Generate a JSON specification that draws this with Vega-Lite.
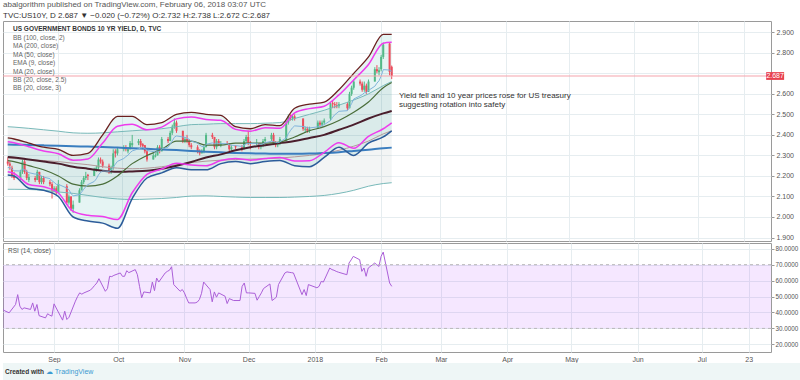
{
"$schema": "https://vega.github.io/schema/vega-lite/v6.json",
"padding": {"left": 2, "top": 0, "right": 0, "bottom": 0},
"background": "white",
"config": {
  "font": "Liberation Sans",
  "view": {"stroke": "#9a9a9a"},
  "axis": {"gridColor": "#e6edf0", "labelColor": "#555555", "labelFontSize": 7, "tickColor": "#9a9a9a", "domain": false, "labelOverlap": false},
  "axisY": {"labelOverlap": false}
},
"title": {"text": "abalgorithm published on TradingView.com, February 06, 2018 03:07 UTC", "subtitle": "TVC:US10Y, D  2.687 ▼ −0.020 (−0.72%)  O:2.732  H:2.738  L:2.672  C:2.687", "anchor": "start", "frame": "group", "fontSize": 8, "fontWeight": "normal", "color": "#555555", "subtitleFontSize": 8, "subtitleColor": "#333333", "subtitleFontWeight": "normal", "subtitlePadding": 3, "offset": 1},
"datasets": {
"bars": [
{"d":"2017-08-08","o":2.27,"h":2.29,"l":2.25,"c":2.26,"e":2.240,"r":42},
{"d":"2017-08-09","o":2.26,"h":2.27,"l":2.23,"c":2.25,"e":2.242,"r":41},
{"d":"2017-08-10","o":2.24,"h":2.25,"l":2.19,"c":2.20,"e":2.234,"r":40.4},
{"d":"2017-08-11","o":2.20,"h":2.22,"l":2.18,"c":2.19,"e":2.225,"r":39.8},
{"d":"2017-08-14","o":2.19,"h":2.23,"l":2.18,"c":2.22,"e":2.224,"r":45},
{"d":"2017-08-15","o":2.22,"h":2.28,"l":2.21,"c":2.27,"e":2.233,"r":51.2},
{"d":"2017-08-16","o":2.27,"h":2.28,"l":2.21,"c":2.22,"e":2.230,"r":44},
{"d":"2017-08-17","o":2.22,"h":2.23,"l":2.18,"c":2.19,"e":2.222,"r":41.9},
{"d":"2017-08-18","o":2.18,"h":2.21,"l":2.17,"c":2.195,"e":2.216,"r":42.9},
{"d":"2017-08-21","o":2.19,"h":2.20,"l":2.17,"c":2.18,"e":2.209,"r":41.9},
{"d":"2017-08-22","o":2.18,"h":2.23,"l":2.18,"c":2.22,"e":2.211,"r":46},
{"d":"2017-08-23","o":2.22,"h":2.22,"l":2.16,"c":2.17,"e":2.203,"r":40.8},
{"d":"2017-08-24","o":2.17,"h":2.20,"l":2.16,"c":2.19,"e":2.200,"r":45},
{"d":"2017-08-25","o":2.19,"h":2.20,"l":2.16,"c":2.17,"e":2.194,"r":38},
{"d":"2017-08-28","o":2.17,"h":2.18,"l":2.15,"c":2.16,"e":2.187,"r":36.6},
{"d":"2017-08-29","o":2.16,"h":2.17,"l":2.09,"c":2.13,"e":2.176,"r":39.2},
{"d":"2017-08-30","o":2.13,"h":2.15,"l":2.12,"c":2.14,"e":2.169,"r":38.3},
{"d":"2017-08-31","o":2.14,"h":2.15,"l":2.11,"c":2.12,"e":2.159,"r":37.7},
{"d":"2017-09-01","o":2.12,"h":2.18,"l":2.12,"c":2.16,"e":2.159,"r":45.4},
{"d":"2017-09-05","o":2.15,"h":2.16,"l":2.06,"c":2.07,"e":2.141,"r":35.2},
{"d":"2017-09-06","o":2.07,"h":2.11,"l":2.06,"c":2.10,"e":2.133,"r":40.8},
{"d":"2017-09-07","o":2.10,"h":2.10,"l":2.03,"c":2.04,"e":2.114,"r":35.6},
{"d":"2017-09-08","o":2.04,"h":2.08,"l":2.02,"c":2.06,"e":2.103,"r":37},
{"d":"2017-09-11","o":2.07,"h":2.14,"l":2.07,"c":2.13,"e":2.108,"r":47.1},
{"d":"2017-09-12","o":2.13,"h":2.18,"l":2.13,"c":2.17,"e":2.121,"r":50},
{"d":"2017-09-13","o":2.17,"h":2.20,"l":2.16,"c":2.19,"e":2.135,"r":52.3},
{"d":"2017-09-14","o":2.19,"h":2.22,"l":2.18,"c":2.20,"e":2.148,"r":51.5},
{"d":"2017-09-15","o":2.205,"h":2.21,"l":2.18,"c":2.20,"e":2.158,"r":52.3},
{"d":"2017-09-18","o":2.20,"h":2.24,"l":2.20,"c":2.23,"e":2.173,"r":54},
{"d":"2017-09-19","o":2.23,"h":2.25,"l":2.22,"c":2.24,"e":2.186,"r":55.4},
{"d":"2017-09-20","o":2.24,"h":2.29,"l":2.23,"c":2.28,"e":2.205,"r":57},
{"d":"2017-09-21","o":2.28,"h":2.29,"l":2.26,"c":2.27,"e":2.218,"r":58.5},
{"d":"2017-09-22","o":2.27,"h":2.28,"l":2.24,"c":2.25,"e":2.224,"r":61.2},
{"d":"2017-09-25","o":2.25,"h":2.26,"l":2.21,"c":2.22,"e":2.223,"r":53.3},
{"d":"2017-09-26","o":2.22,"h":2.25,"l":2.21,"c":2.24,"e":2.227,"r":55},
{"d":"2017-09-27","o":2.24,"h":2.33,"l":2.23,"c":2.31,"e":2.243,"r":62.7},
{"d":"2017-09-28","o":2.32,"h":2.33,"l":2.29,"c":2.31,"e":2.257,"r":62.5},
{"d":"2017-09-29","o":2.31,"h":2.34,"l":2.30,"c":2.33,"e":2.271,"r":63.3},
{"d":"2017-10-02","o":2.33,"h":2.35,"l":2.32,"c":2.34,"e":2.285,"r":64.8},
{"d":"2017-10-03","o":2.34,"h":2.35,"l":2.32,"c":2.33,"e":2.294,"r":62.7},
{"d":"2017-10-04","o":2.32,"h":2.34,"l":2.31,"c":2.33,"e":2.301,"r":62.7},
{"d":"2017-10-05","o":2.33,"h":2.37,"l":2.33,"c":2.36,"e":2.313,"r":66.2},
{"d":"2017-10-06","o":2.35,"h":2.40,"l":2.34,"c":2.36,"e":2.322,"r":65},
{"d":"2017-10-09","o":2.36,"h":2.38,"l":2.35,"c":2.37,"e":2.332,"r":66.9},
{"d":"2017-10-10","o":2.37,"h":2.38,"l":2.34,"c":2.35,"e":2.336,"r":63.7},
{"d":"2017-10-11","o":2.355,"h":2.36,"l":2.33,"c":2.345,"e":2.338,"r":56.4},
{"d":"2017-10-12","o":2.35,"h":2.35,"l":2.31,"c":2.32,"e":2.335,"r":49.2},
{"d":"2017-10-13","o":2.32,"h":2.33,"l":2.27,"c":2.28,"e":2.324,"r":52.9},
{"d":"2017-10-16","o":2.28,"h":2.31,"l":2.28,"c":2.30,"e":2.319,"r":52.3},
{"d":"2017-10-17","o":2.295,"h":2.31,"l":2.29,"c":2.30,"e":2.315,"r":59.1},
{"d":"2017-10-18","o":2.30,"h":2.35,"l":2.30,"c":2.34,"e":2.320,"r":53.7},
{"d":"2017-10-19","o":2.34,"h":2.35,"l":2.31,"c":2.32,"e":2.320,"r":61.6},
{"d":"2017-10-20","o":2.32,"h":2.39,"l":2.32,"c":2.38,"e":2.332,"r":59.1},
{"d":"2017-10-23","o":2.38,"h":2.39,"l":2.36,"c":2.37,"e":2.340,"r":64.8},
{"d":"2017-10-24","o":2.37,"h":2.42,"l":2.37,"c":2.41,"e":2.354,"r":65.8},
{"d":"2017-10-25","o":2.41,"h":2.45,"l":2.40,"c":2.44,"e":2.371,"r":66.5},
{"d":"2017-10-26","o":2.44,"h":2.48,"l":2.43,"c":2.46,"e":2.389,"r":68.7},
{"d":"2017-10-27","o":2.46,"h":2.47,"l":2.41,"c":2.42,"e":2.395,"r":57.5},
{"d":"2017-10-30","o":2.42,"h":2.42,"l":2.36,"c":2.37,"e":2.390,"r":53.3},
{"d":"2017-10-31","o":2.37,"h":2.39,"l":2.36,"c":2.38,"e":2.388,"r":54.4},
{"d":"2017-11-01","o":2.38,"h":2.40,"l":2.36,"c":2.37,"e":2.384,"r":52.3},
{"d":"2017-11-02","o":2.37,"h":2.38,"l":2.34,"c":2.35,"e":2.378,"r":49},
{"d":"2017-11-03","o":2.35,"h":2.36,"l":2.33,"c":2.34,"e":2.370,"r":46},
{"d":"2017-11-06","o":2.34,"h":2.35,"l":2.31,"c":2.32,"e":2.360,"r":46},
{"d":"2017-11-07","o":2.32,"h":2.33,"l":2.30,"c":2.31,"e":2.350,"r":46.5},
{"d":"2017-11-08","o":2.31,"h":2.33,"l":2.31,"c":2.32,"e":2.344,"r":48.1},
{"d":"2017-11-09","o":2.32,"h":2.35,"l":2.31,"c":2.34,"e":2.343,"r":52},
{"d":"2017-11-10","o":2.34,"h":2.41,"l":2.34,"c":2.40,"e":2.354,"r":59.1},
{"d":"2017-11-13","o":2.40,"h":2.41,"l":2.38,"c":2.39,"e":2.361,"r":54.4},
{"d":"2017-11-14","o":2.39,"h":2.39,"l":2.33,"c":2.34,"e":2.357,"r":46.7},
{"d":"2017-11-15","o":2.34,"h":2.38,"l":2.33,"c":2.37,"e":2.360,"r":52.9},
{"d":"2017-11-16","o":2.37,"h":2.38,"l":2.345,"c":2.35,"e":2.358,"r":49.6},
{"d":"2017-11-17","o":2.35,"h":2.37,"l":2.34,"c":2.36,"e":2.358,"r":52.3},
{"d":"2017-11-20","o":2.36,"h":2.37,"l":2.35,"c":2.355,"e":2.357,"r":50.2},
{"d":"2017-11-21","o":2.355,"h":2.36,"l":2.32,"c":2.33,"e":2.352,"r":45.6},
{"d":"2017-11-22","o":2.33,"h":2.35,"l":2.32,"c":2.34,"e":2.350,"r":48.7},
{"d":"2017-11-24","o":2.345,"h":2.35,"l":2.33,"c":2.34,"e":2.348,"r":47.5},
{"d":"2017-11-27","o":2.34,"h":2.35,"l":2.32,"c":2.33,"e":2.344,"r":47.5},
{"d":"2017-11-28","o":2.33,"h":2.38,"l":2.33,"c":2.37,"e":2.349,"r":56.4},
{"d":"2017-11-29","o":2.37,"h":2.40,"l":2.36,"c":2.39,"e":2.357,"r":58.5},
{"d":"2017-11-30","o":2.39,"h":2.42,"l":2.35,"c":2.36,"e":2.358,"r":52.3},
{"d":"2017-12-01","o":2.365,"h":2.37,"l":2.33,"c":2.36,"e":2.358,"r":52.3},
{"d":"2017-12-04","o":2.355,"h":2.38,"l":2.35,"c":2.36,"e":2.359,"r":52},
{"d":"2017-12-05","o":2.36,"h":2.36,"l":2.33,"c":2.34,"e":2.355,"r":47.7},
{"d":"2017-12-06","o":2.34,"h":2.36,"l":2.33,"c":2.35,"e":2.354,"r":50},
{"d":"2017-12-07","o":2.35,"h":2.38,"l":2.34,"c":2.37,"e":2.357,"r":52.3},
{"d":"2017-12-08","o":2.37,"h":2.39,"l":2.36,"c":2.38,"e":2.362,"r":55},
{"d":"2017-12-11","o":2.38,"h":2.41,"l":2.37,"c":2.40,"e":2.369,"r":57.9},
{"d":"2017-12-12","o":2.40,"h":2.41,"l":2.35,"c":2.36,"e":2.367,"r":47.5},
{"d":"2017-12-13","o":2.36,"h":2.37,"l":2.34,"c":2.35,"e":2.364,"r":48.5},
{"d":"2017-12-14","o":2.35,"h":2.36,"l":2.34,"c":2.355,"e":2.362,"r":49.6},
{"d":"2017-12-15","o":2.355,"h":2.39,"l":2.35,"c":2.38,"e":2.366,"r":57.5},
{"d":"2017-12-18","o":2.37,"h":2.47,"l":2.37,"c":2.46,"e":2.385,"r":64.8},
{"d":"2017-12-19","o":2.46,"h":2.50,"l":2.45,"c":2.49,"e":2.406,"r":65.5},
{"d":"2017-12-20","o":2.49,"h":2.50,"l":2.47,"c":2.48,"e":2.421,"r":65.2},
{"d":"2017-12-21","o":2.48,"h":2.50,"l":2.47,"c":2.49,"e":2.435,"r":65},
{"d":"2017-12-22","o":2.49,"h":2.50,"l":2.47,"c":2.48,"e":2.444,"r":64.8},
{"d":"2017-12-26","o":2.48,"h":2.48,"l":2.42,"c":2.43,"e":2.441,"r":51.2},
{"d":"2017-12-27","o":2.425,"h":2.44,"l":2.41,"c":2.43,"e":2.439,"r":54.4},
{"d":"2017-12-28","o":2.43,"h":2.44,"l":2.41,"c":2.42,"e":2.435,"r":50.6},
{"d":"2017-12-29","o":2.42,"h":2.44,"l":2.41,"c":2.43,"e":2.434,"r":57.5},
{"d":"2018-01-02","o":2.43,"h":2.47,"l":2.43,"c":2.46,"e":2.439,"r":55.5},
{"d":"2018-01-03","o":2.46,"h":2.47,"l":2.44,"c":2.45,"e":2.441,"r":56.4},
{"d":"2018-01-04","o":2.45,"h":2.47,"l":2.44,"c":2.46,"e":2.445,"r":59.5},
{"d":"2018-01-05","o":2.46,"h":2.48,"l":2.45,"c":2.47,"e":2.450,"r":59.1},
{"d":"2018-01-08","o":2.48,"h":2.56,"l":2.47,"c":2.55,"e":2.470,"r":67.9},
{"d":"2018-01-09","o":2.555,"h":2.57,"l":2.53,"c":2.55,"e":2.486,"r":66.9},
{"d":"2018-01-10","o":2.55,"h":2.56,"l":2.53,"c":2.545,"e":2.498,"r":66.5},
{"d":"2018-01-11","o":2.545,"h":2.56,"l":2.53,"c":2.54,"e":2.506,"r":65.8},
{"d":"2018-01-12","o":2.54,"h":2.56,"l":2.53,"c":2.55,"e":2.515,"r":65.3},
{"d":"2018-01-16","o":2.55,"h":2.56,"l":2.52,"c":2.53,"e":2.518,"r":63.7},
{"d":"2018-01-17","o":2.53,"h":2.61,"l":2.53,"c":2.60,"e":2.534,"r":71},
{"d":"2018-01-18","o":2.60,"h":2.64,"l":2.59,"c":2.63,"e":2.553,"r":73},
{"d":"2018-01-19","o":2.63,"h":2.67,"l":2.62,"c":2.66,"e":2.575,"r":75.2},
{"d":"2018-01-22","o":2.66,"h":2.67,"l":2.64,"c":2.65,"e":2.590,"r":73.1},
{"d":"2018-01-23","o":2.65,"h":2.66,"l":2.61,"c":2.62,"e":2.596,"r":65.8},
{"d":"2018-01-24","o":2.62,"h":2.66,"l":2.61,"c":2.64,"e":2.605,"r":67.9},
{"d":"2018-01-25","o":2.64,"h":2.65,"l":2.60,"c":2.61,"e":2.606,"r":62.7},
{"d":"2018-01-26","o":2.61,"h":2.67,"l":2.61,"c":2.66,"e":2.617,"r":67.9},
{"d":"2018-01-29","o":2.66,"h":2.73,"l":2.66,"c":2.72,"e":2.637,"r":71},
{"d":"2018-01-30","o":2.72,"h":2.74,"l":2.70,"c":2.71,"e":2.652,"r":70},
{"d":"2018-01-31","o":2.705,"h":2.73,"l":2.69,"c":2.715,"e":2.664,"r":68.9},
{"d":"2018-02-01","o":2.72,"h":2.79,"l":2.71,"c":2.78,"e":2.687,"r":75.2},
{"d":"2018-02-02","o":2.78,"h":2.85,"l":2.77,"c":2.84,"e":2.718,"r":77.9},
{"d":"2018-02-05","o":2.845,"h":2.852,"l":2.69,"c":2.707,"e":2.716,"r":58.5},
{"d":"2018-02-06","o":2.732,"h":2.738,"l":2.672,"c":2.687,"e":2.710,"r":56.4}
],
"ind": [
{"d":"2017-08-08","ma200":2.353,"ma100":2.287,"bu100":2.44,"bl100":2.135,"ma50":2.292,"ma20":2.275,"u3":2.385,"l3":2.205,"u25":2.367,"l25":2.22},
{"d":"2017-08-11","ma200":2.352,"ma100":2.285,"bu100":2.438,"bl100":2.135,"ma50":2.29,"ma20":2.27,"u3":2.38,"l3":2.20,"u25":2.362,"l25":2.212},
{"d":"2017-08-18","ma200":2.351,"ma100":2.28,"bu100":2.432,"bl100":2.134,"ma50":2.28,"ma20":2.25,"u3":2.36,"l3":2.14,"u25":2.342,"l25":2.158},
{"d":"2017-08-25","ma200":2.349,"ma100":2.275,"bu100":2.425,"bl100":2.13,"ma50":2.27,"ma20":2.23,"u3":2.34,"l3":2.13,"u25":2.322,"l25":2.147},
{"d":"2017-09-01","ma200":2.347,"ma100":2.27,"bu100":2.418,"bl100":2.122,"ma50":2.26,"ma20":2.20,"u3":2.33,"l3":2.10,"u25":2.308,"l25":2.117},
{"d":"2017-09-08","ma200":2.345,"ma100":2.262,"bu100":2.41,"bl100":2.115,"ma50":2.245,"ma20":2.16,"u3":2.30,"l3":2.00,"u25":2.277,"l25":2.027},
{"d":"2017-09-15","ma200":2.343,"ma100":2.255,"bu100":2.408,"bl100":2.105,"ma50":2.235,"ma20":2.15,"u3":2.31,"l3":1.98,"u25":2.283,"l25":2.008},
{"d":"2017-09-22","ma200":2.341,"ma100":2.245,"bu100":2.41,"bl100":2.095,"ma50":2.225,"ma20":2.16,"u3":2.40,"l3":1.97,"u25":2.36,"l25":2.002},
{"d":"2017-09-29","ma200":2.338,"ma100":2.238,"bu100":2.415,"bl100":2.088,"ma50":2.22,"ma20":2.20,"u3":2.49,"l3":1.945,"u25":2.442,"l25":1.988},
{"d":"2017-10-06","ma200":2.335,"ma100":2.235,"bu100":2.42,"bl100":2.085,"ma50":2.222,"ma20":2.26,"u3":2.49,"l3":2.09,"u25":2.452,"l25":2.118},
{"d":"2017-10-13","ma200":2.332,"ma100":2.238,"bu100":2.425,"bl100":2.087,"ma50":2.225,"ma20":2.30,"u3":2.45,"l3":2.19,"u25":2.425,"l25":2.208},
{"d":"2017-10-20","ma200":2.329,"ma100":2.245,"bu100":2.43,"bl100":2.09,"ma50":2.235,"ma20":2.33,"u3":2.46,"l3":2.215,"u25":2.438,"l25":2.234},
{"d":"2017-10-27","ma200":2.326,"ma100":2.255,"bu100":2.44,"bl100":2.095,"ma50":2.25,"ma20":2.37,"u3":2.50,"l3":2.24,"u25":2.478,"l25":2.262},
{"d":"2017-11-03","ma200":2.322,"ma100":2.265,"bu100":2.45,"bl100":2.102,"ma50":2.268,"ma20":2.37,"u3":2.51,"l3":2.23,"u25":2.487,"l25":2.253},
{"d":"2017-11-10","ma200":2.318,"ma100":2.272,"bu100":2.452,"bl100":2.103,"ma50":2.29,"ma20":2.35,"u3":2.50,"l3":2.23,"u25":2.475,"l25":2.25},
{"d":"2017-11-17","ma200":2.315,"ma100":2.277,"bu100":2.455,"bl100":2.10,"ma50":2.305,"ma20":2.35,"u3":2.495,"l3":2.26,"u25":2.471,"l25":2.275},
{"d":"2017-11-24","ma200":2.312,"ma100":2.28,"bu100":2.455,"bl100":2.097,"ma50":2.325,"ma20":2.36,"u3":2.44,"l3":2.27,"u25":2.427,"l25":2.285},
{"d":"2017-12-01","ma200":2.31,"ma100":2.282,"bu100":2.455,"bl100":2.095,"ma50":2.34,"ma20":2.36,"u3":2.43,"l3":2.26,"u25":2.418,"l25":2.277},
{"d":"2017-12-08","ma200":2.309,"ma100":2.284,"bu100":2.457,"bl100":2.095,"ma50":2.35,"ma20":2.36,"u3":2.45,"l3":2.27,"u25":2.435,"l25":2.285},
{"d":"2017-12-15","ma200":2.308,"ma100":2.287,"bu100":2.46,"bl100":2.095,"ma50":2.36,"ma20":2.365,"u3":2.445,"l3":2.275,"u25":2.432,"l25":2.29},
{"d":"2017-12-22","ma200":2.308,"ma100":2.293,"bu100":2.48,"bl100":2.097,"ma50":2.37,"ma20":2.39,"u3":2.53,"l3":2.25,"u25":2.507,"l25":2.273},
{"d":"2017-12-29","ma200":2.309,"ma100":2.30,"bu100":2.50,"bl100":2.10,"ma50":2.385,"ma20":2.42,"u3":2.55,"l3":2.245,"u25":2.528,"l25":2.274},
{"d":"2018-01-05","ma200":2.312,"ma100":2.31,"bu100":2.52,"bl100":2.105,"ma50":2.40,"ma20":2.44,"u3":2.56,"l3":2.29,"u25":2.54,"l25":2.315},
{"d":"2018-01-12","ma200":2.316,"ma100":2.325,"bu100":2.545,"bl100":2.115,"ma50":2.425,"ma20":2.47,"u3":2.62,"l3":2.34,"u25":2.595,"l25":2.362},
{"d":"2018-01-19","ma200":2.322,"ma100":2.345,"bu100":2.57,"bl100":2.13,"ma50":2.45,"ma20":2.51,"u3":2.70,"l3":2.30,"u25":2.668,"l25":2.335},
{"d":"2018-01-26","ma200":2.328,"ma100":2.37,"bu100":2.60,"bl100":2.15,"ma50":2.48,"ma20":2.56,"u3":2.78,"l3":2.36,"u25":2.743,"l25":2.393},
{"d":"2018-02-02","ma200":2.335,"ma100":2.405,"bu100":2.64,"bl100":2.163,"ma50":2.505,"ma20":2.63,"u3":2.89,"l3":2.39,"u25":2.847,"l25":2.43},
{"d":"2018-02-06","ma200":2.338,"ma100":2.42,"bu100":2.66,"bl100":2.167,"ma50":2.517,"ma20":2.655,"u3":2.89,"l3":2.42,"u25":2.851,"l25":2.459}
]
},
"spacing": 0,
"resolve": {"scale": {"x": "independent", "y": "independent"}},
"vconcat": [
{
  "width": 768, "height": 220,
  "resolve": {"axis": {"x": "independent", "y": "independent"}},
  "layer": [
    {"data": {"name": "ind"}, "mark": {"type": "area", "color": "#8a9a9a", "opacity": 0.1, "interpolate": "monotone", "clip": true},
     "encoding": {
       "x": {"field": "d", "type": "temporal", "title": null, "scale": {"type": "utc", "nice": false, "domain": [{"year": 2017, "month": 8, "date": 8, "hours": 3, "utc": true}, {"year": 2018, "month": 8, "date": 2, "hours": 10, "utc": true}]},
             "axis": {"values": [{"year":2017,"month":9,"date":1,"utc":true},{"year":2017,"month":10,"date":1,"utc":true},{"year":2017,"month":11,"date":1,"utc":true},{"year":2017,"month":12,"date":1,"utc":true},{"year":2018,"month":1,"date":1,"utc":true},{"year":2018,"month":2,"date":1,"utc":true},{"year":2018,"month":3,"date":1,"utc":true},{"year":2018,"month":4,"date":1,"utc":true},{"year":2018,"month":5,"date":1,"utc":true},{"year":2018,"month":6,"date":1,"utc":true},{"year":2018,"month":7,"date":1,"utc":true},{"year":2018,"month":7,"date":23,"utc":true}], "labels": false, "ticks": false, "domain": false, "grid": true, "title": null}},
       "y": {"field": "bu100", "type": "quantitative", "title": null, "scale": {"domain": [1.883, 2.955], "zero": false, "nice": false},
             "axis": {"orient": "right", "values": [1.9, 2.0, 2.1, 2.2, 2.3, 2.4, 2.5, 2.6, 2.7, 2.8, 2.9], "labelExpr": "abs(datum.value - 2.7) < 0.001 ? '' : format(datum.value, '.3f')", "tickSize": 3, "labelPadding": 2, "labelOverlap": false, "grid": true, "title": null}},
       "y2": {"field": "bl100"}}},
    {"data": {"name": "ind"}, "mark": {"type": "area", "color": "#009688", "opacity": 0.1, "interpolate": "monotone", "clip": true},
     "encoding": {"x": {"field": "d", "type": "temporal", "axis": null, "scale": {"type": "utc"}}, "y": {"field": "u3", "type": "quantitative", "axis": null}, "y2": {"field": "l3"}}},
    {"data": {"name": "bars"}, "mark": {"type": "rule", "strokeWidth": 1, "clip": true},
     "encoding": {"x": {"field": "d", "type": "temporal", "axis": null, "scale": {"type": "utc"}}, "y": {"field": "l", "type": "quantitative", "axis": null}, "y2": {"field": "h"},
       "color": {"condition": {"test": "datum.c >= datum.o", "value": "#53b987"}, "value": "#eb4d5c"}}},
    {"data": {"name": "bars"}, "mark": {"type": "bar", "size": 2, "clip": true},
     "encoding": {"x": {"field": "d", "type": "temporal", "axis": null, "scale": {"type": "utc"}}, "y": {"field": "o", "type": "quantitative", "axis": null}, "y2": {"field": "c"},
       "color": {"condition": {"test": "datum.c >= datum.o", "value": "#53b987"}, "value": "#eb4d5c"}}},
    {"data": {"name": "ind"}, "mark": {"type": "line", "color": "#78b9b9", "strokeWidth": 1, "interpolate": "monotone", "clip": true},
     "encoding": {"x": {"field": "d", "type": "temporal", "axis": null, "scale": {"type": "utc"}}, "y": {"field": "bu100", "type": "quantitative", "axis": null}}},
    {"data": {"name": "ind"}, "mark": {"type": "line", "color": "#78b9b9", "strokeWidth": 1, "interpolate": "monotone", "clip": true},
     "encoding": {"x": {"field": "d", "type": "temporal", "axis": null, "scale": {"type": "utc"}}, "y": {"field": "bl100", "type": "quantitative", "axis": null}}},
    {"data": {"name": "ind"}, "mark": {"type": "line", "color": "#b3999a", "strokeWidth": 1, "interpolate": "monotone", "clip": true},
     "encoding": {"x": {"field": "d", "type": "temporal", "axis": null, "scale": {"type": "utc"}}, "y": {"field": "ma100", "type": "quantitative", "axis": null}}},
    {"data": {"name": "ind"}, "mark": {"type": "line", "color": "#3a7dbf", "strokeWidth": 2, "interpolate": "monotone", "clip": true},
     "encoding": {"x": {"field": "d", "type": "temporal", "axis": null, "scale": {"type": "utc"}}, "y": {"field": "ma200", "type": "quantitative", "axis": null}}},
    {"data": {"name": "ind"}, "mark": {"type": "line", "color": "#4a1e2c", "strokeWidth": 2, "interpolate": "monotone", "clip": true},
     "encoding": {"x": {"field": "d", "type": "temporal", "axis": null, "scale": {"type": "utc"}}, "y": {"field": "ma50", "type": "quantitative", "axis": null}}},
    {"data": {"name": "ind"}, "mark": {"type": "line", "color": "#4a6e3a", "strokeWidth": 1.2, "interpolate": "monotone", "clip": true},
     "encoding": {"x": {"field": "d", "type": "temporal", "axis": null, "scale": {"type": "utc"}}, "y": {"field": "ma20", "type": "quantitative", "axis": null}}},
    {"data": {"name": "bars"}, "mark": {"type": "line", "color": "#7fb3dc", "strokeWidth": 1, "clip": true},
     "encoding": {"x": {"field": "d", "type": "temporal", "axis": null, "scale": {"type": "utc"}}, "y": {"field": "e", "type": "quantitative", "axis": null}}},
    {"data": {"name": "ind"}, "mark": {"type": "line", "color": "#6b1f1f", "strokeWidth": 1.3, "interpolate": "monotone", "clip": true},
     "encoding": {"x": {"field": "d", "type": "temporal", "axis": null, "scale": {"type": "utc"}}, "y": {"field": "u3", "type": "quantitative", "axis": null}}},
    {"data": {"name": "ind"}, "mark": {"type": "line", "color": "#2c5c9a", "strokeWidth": 1.5, "interpolate": "monotone", "clip": true},
     "encoding": {"x": {"field": "d", "type": "temporal", "axis": null, "scale": {"type": "utc"}}, "y": {"field": "l3", "type": "quantitative", "axis": null}}},
    {"data": {"name": "ind"}, "mark": {"type": "line", "color": "#ee3ced", "strokeWidth": 1.5, "interpolate": "monotone", "clip": true},
     "encoding": {"x": {"field": "d", "type": "temporal", "axis": null, "scale": {"type": "utc"}}, "y": {"field": "u25", "type": "quantitative", "axis": null}}},
    {"data": {"name": "ind"}, "mark": {"type": "line", "color": "#ee3ced", "strokeWidth": 1.5, "interpolate": "monotone", "clip": true},
     "encoding": {"x": {"field": "d", "type": "temporal", "axis": null, "scale": {"type": "utc"}}, "y": {"field": "l25", "type": "quantitative", "axis": null}}},
    {"data": {"values": [{}]}, "mark": {"type": "rule", "color": "#f5a3ab", "strokeWidth": 1},
     "encoding": {"y": {"datum": 2.687, "type": "quantitative", "axis": null}}},
    {"data": {"values": [{}]}, "mark": {"type": "text", "text": "US GOVERNMENT BONDS 10 YR YIELD, D, TVC", "align": "left", "baseline": "top", "fontSize": 6.5, "fontWeight": "bold", "color": "#333333", "dx": 5},
     "encoding": {"x": {"datum": {"year": 2017, "month": 8, "date": 8, "hours": 3, "utc": true}, "type": "temporal", "axis": null, "scale": {"type": "utc"}}, "y": {"datum": 2.93, "type": "quantitative", "axis": null}}},
    {"data": {"values": [{}]}, "mark": {"type": "text", "text": ["BB (100, close, 2)", "MA (200, close)", "MA (50, close)", "EMA (9, close)", "MA (20, close)", "BB (20, close, 2.5)", "BB (20, close, 3)"], "lineHeight": 8.45, "align": "left", "baseline": "top", "fontSize": 6.5, "color": "#666666", "dx": 5},
     "encoding": {"x": {"datum": {"year": 2017, "month": 8, "date": 8, "hours": 3, "utc": true}, "type": "temporal", "axis": null, "scale": {"type": "utc"}}, "y": {"datum": 2.888, "type": "quantitative", "axis": null}}},
    {"data": {"values": [{}]}, "mark": {"type": "text", "text": ["Yield fell and 10 year prices rose for US treasury", "suggesting rotation into safety"], "lineHeight": 8.5, "align": "left", "baseline": "top", "fontSize": 8, "color": "#333333"},
     "encoding": {"x": {"datum": {"year": 2018, "month": 2, "date": 9, "hours": 10, "utc": true}, "type": "temporal", "axis": null, "scale": {"type": "utc"}}, "y": {"datum": 2.607, "type": "quantitative", "axis": null}}},
    {"data": {"values": [{}]}, "mark": {"type": "rect", "color": "#e8414f"},
     "encoding": {"x": {"datum": {"year": 2018, "month": 8, "date": 2, "hours": 12, "utc": true}, "type": "temporal", "axis": null, "scale": {"type": "utc"}},
                  "x2": {"datum": {"year": 2018, "month": 8, "date": 11, "hours": 0, "utc": true}},
                  "y": {"datum": 2.706, "type": "quantitative", "axis": null}, "y2": {"datum": 2.668}}},
    {"data": {"values": [{}]}, "mark": {"type": "text", "text": "2.687", "align": "center", "baseline": "middle", "fontSize": 7, "color": "white"},
     "encoding": {"x": {"datum": {"year": 2018, "month": 8, "date": 6, "hours": 18, "utc": true}, "type": "temporal", "axis": null, "scale": {"type": "utc"}}, "y": {"datum": 2.687, "type": "quantitative", "axis": null}}}
  ]
},
{
  "width": 768, "height": 109,
  "resolve": {"axis": {"x": "independent", "y": "independent"}},
  "layer": [
    {"data": {"values": [{}]}, "mark": {"type": "rect", "color": "#9915ff", "opacity": 0.1},
     "encoding": {"y": {"datum": 30, "type": "quantitative", "axis": null}, "y2": {"datum": 70}}},
    {"data": {"name": "bars"}, "mark": {"type": "line", "color": "#ab5fd8", "strokeWidth": 1, "clip": true},
     "encoding": {
       "x": {"field": "d", "type": "temporal", "title": null, "scale": {"type": "utc", "nice": false, "domain": [{"year": 2017, "month": 8, "date": 8, "hours": 3, "utc": true}, {"year": 2018, "month": 8, "date": 2, "hours": 10, "utc": true}]},
             "axis": {"values": [{"year":2017,"month":9,"date":1,"utc":true},{"year":2017,"month":10,"date":1,"utc":true},{"year":2017,"month":11,"date":1,"utc":true},{"year":2017,"month":12,"date":1,"utc":true},{"year":2018,"month":1,"date":1,"utc":true},{"year":2018,"month":2,"date":1,"utc":true},{"year":2018,"month":3,"date":1,"utc":true},{"year":2018,"month":4,"date":1,"utc":true},{"year":2018,"month":5,"date":1,"utc":true},{"year":2018,"month":6,"date":1,"utc":true},{"year":2018,"month":7,"date":1,"utc":true},{"year":2018,"month":7,"date":23,"utc":true}],
               "labelExpr": "utcdate(datum.value) != 1 ? utcFormat(datum.value, '%d') : (utcmonth(datum.value) == 0 ? utcFormat(datum.value, '%Y') : utcFormat(datum.value, '%b'))",
               "ticks": false, "domain": false, "grid": true, "title": null, "labelPadding": 3, "labelOverlap": false, "labelFlush": false}},
       "y": {"field": "r", "type": "quantitative", "title": null, "scale": {"domain": [15.2, 83.6], "zero": false, "nice": false},
             "axis": {"orient": "right", "values": [20, 30, 40, 50, 60, 70, 80], "format": ".4f", "tickSize": 3, "labelPadding": 1, "labelFontSize": 6.3, "labelOverlap": false, "grid": true, "title": null}}}},
    {"data": {"values": [{"lvl": 30}, {"lvl": 70}]}, "mark": {"type": "rule", "color": "#b8b8b8", "strokeDash": [3, 3], "strokeWidth": 1},
     "encoding": {"y": {"field": "lvl", "type": "quantitative", "axis": null}}},
    {"data": {"values": [{}]}, "mark": {"type": "text", "text": "RSI (14, close)", "align": "left", "baseline": "top", "fontSize": 6.5, "color": "#555555", "dx": 5, "dy": 5},
     "encoding": {"x": {"datum": {"year": 2017, "month": 8, "date": 8, "hours": 3, "utc": true}, "type": "temporal", "axis": null, "scale": {"type": "utc"}}, "y": {"datum": 83.6, "type": "quantitative", "axis": null}}}
  ]
},
{
  "width": 798, "height": 18,
  "view": {"fill": "#eef6f6", "stroke": null},
  "data": {"values": [{}]},
  "layer": [
    {"mark": {"type": "text", "text": "Created with", "align": "left", "baseline": "middle", "fontSize": 6.5, "fontWeight": "bold", "color": "#333333", "dx": 2},
     "encoding": {"x": {"datum": 0, "type": "quantitative", "scale": {"domain": [0, 1]}, "axis": null}, "y": {"datum": 0.5, "type": "quantitative", "scale": {"domain": [0, 1]}, "axis": null}}},
    {"mark": {"type": "text", "text": "☁ TradingView", "align": "left", "baseline": "middle", "fontSize": 7, "color": "#3d9ad1", "dx": 43},
     "encoding": {"x": {"datum": 0, "type": "quantitative", "axis": null}, "y": {"datum": 0.5, "type": "quantitative", "axis": null}}}
  ]
}
]
}
